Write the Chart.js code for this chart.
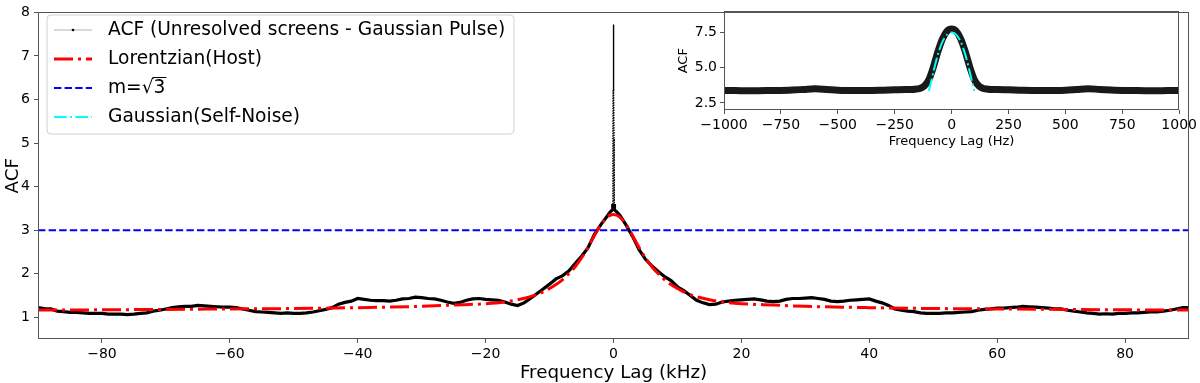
<!DOCTYPE html>
<html>
<head>
<meta charset="utf-8">
<script src="https://cdn.jsdelivr.net/npm/chart.js@4.4.1/dist/chart.umd.min.js"></script>
<style>
  html, body { margin: 0; padding: 0; background: #fff; }
  #wrap { position: relative; width: 1200px; height: 383px; }
  #main { position: absolute; left: 0; top: 0; }
  #inset { position: absolute; left: 665px; top: 0; }
</style>
</head>
<body>
<div id="wrap">
  <canvas id="main" width="1200" height="383"></canvas>
  <canvas id="inset" width="535" height="155"></canvas>
</div>
<script>
// --- main panel data (kHz) ---
const acfKhz = [
  -90,-89,-88,-87,-86,-85,-84,-83,-82,-81,-80,-79,-78,-77,-76,-75,-74,-73,-72,-71,
  -70,-69,-68,-67,-66,-65,-64,-63,-62,-61,-60,-59,-58,-57,-56,-55,-54,-53,-52,-51,
  -50,-49,-48,-47,-46,-45,-44,-43,-42,-41,-40,-39,-38,-37,-36,-35,-34,-33,-32,-31,
  -30,-29,-28,-27,-26,-25,-24,-23,-22,-21,-20,-19,-18,-17,-16,-15,-14,-13,-12,-11,
  -10,-9,-8,-7,-6,-5,-4,-3,-2,-1,
  -0.5,-0.3,-0.15,-0.12,-0.1,-0.08,-0.06,-0.04,-0.02,0,0.02,0.04,0.06,0.08,0.1,0.12,0.15,0.3,0.5,
  1,2,3,4,5,6,7,8,9,10,11,12,13,14,15,16,17,18,19,20,
  21,22,23,24,25,26,27,28,29,30,31,32,33,34,35,36,37,38,39,40,
  41,42,43,44,45,46,47,48,49,50,51,52,53,54,55,56,57,58,59,60,
  61,62,63,64,65,66,67,68,69,70,71,72,73,74,75,76,77,78,79,80,
  81,82,83,84,85,86,87,88,89,90
];
const acfMain = [
  1.22,1.20,1.19,1.14,1.13,1.11,1.11,1.10,1.09,1.09,1.09,1.07,1.07,1.07,1.06,1.07,1.09,1.10,1.14,1.16,
  1.19,1.22,1.24,1.25,1.25,1.27,1.26,1.25,1.24,1.23,1.23,1.22,1.19,1.16,1.13,1.12,1.11,1.10,1.09,1.10,
  1.09,1.09,1.10,1.12,1.15,1.18,1.22,1.30,1.34,1.37,1.43,1.41,1.39,1.38,1.38,1.37,1.39,1.42,1.43,1.46,
  1.45,1.43,1.42,1.39,1.35,1.32,1.34,1.39,1.42,1.43,1.41,1.40,1.39,1.35,1.30,1.27,1.33,1.43,1.54,1.65,
  1.76,1.88,1.95,2.06,2.23,2.40,2.59,2.90,3.12,3.32,
  3.42,3.45,3.47,3.60,4.10,5.10,6.20,7.00,7.55,7.72,7.55,7.00,6.20,5.10,4.10,3.60,3.47,3.45,3.42,
  3.34,3.11,2.85,2.55,2.33,2.18,2.05,1.93,1.84,1.70,1.61,1.50,1.39,1.33,1.29,1.30,1.35,1.37,1.39,1.40,
  1.41,1.42,1.40,1.37,1.36,1.37,1.41,1.43,1.43,1.44,1.45,1.43,1.41,1.37,1.36,1.37,1.39,1.40,1.41,1.42,
  1.37,1.33,1.27,1.19,1.16,1.14,1.13,1.10,1.09,1.09,1.09,1.10,1.10,1.11,1.12,1.13,1.16,1.18,1.19,1.21,
  1.21,1.22,1.23,1.25,1.24,1.23,1.22,1.21,1.19,1.19,1.16,1.14,1.12,1.10,1.09,1.07,1.08,1.07,1.09,1.09,
  1.10,1.10,1.11,1.12,1.12,1.14,1.16,1.19,1.22,1.22
];
const lorKhz = [-90,-80,-70,-60,-50,-40,-30,-25,-20,-17,-15,-13,-12,-11,-10,-9,-8,-7,-6,-5,-4,-3,-2,-1,0,
                1,2,3,4,5,6,7,8,9,10,11,12,13,15,17,20,25,30,40,50,60,70,80,90];
const lorVal = [1.165,1.17,1.18,1.19,1.20,1.22,1.25,1.28,1.31,1.35,1.40,1.47,1.52,1.58,1.66,1.75,1.86,2.00,2.16,2.36,2.60,2.87,3.12,3.30,3.36,
                3.30,3.12,2.87,2.60,2.36,2.16,2.00,1.86,1.75,1.66,1.58,1.52,1.47,1.40,1.35,1.31,1.28,1.25,1.22,1.20,1.19,1.18,1.17,1.165];
const mLevelKhz = [-90, 90];
const mLevel = [3, 3];
const mainXTicks = [-80, -60, -40, -20, 0, 20, 40, 60, 80];
const mainYTicks = [1, 2, 3, 4, 5, 6, 7, 8];
const legendLabels = ['ACF (Unresolved screens - Gaussian Pulse)', 'Lorentzian(Host)', 'm=\u221A3', 'Gaussian(Self-Noise)'];

// --- inset data (Hz) ---
const insetHz = [-1000,-950,-900,-850,-800,-750,-700,-650,-600,-550,-500,-450,-400,-350,-300,-250,-200,-180,-160,-140,-120,-100,-80,-60,-40,-20,0,
                 20,40,60,80,100,120,140,160,180,200,250,300,350,400,450,500,550,600,650,700,750,800,850,900,950,1000];
const insetAcf = [3.38,3.38,3.37,3.37,3.38,3.39,3.42,3.46,3.50,3.46,3.41,3.39,3.38,3.39,3.41,3.43,3.45,3.46,3.48,3.53,3.70,4.15,5.05,6.15,7.05,7.60,7.75,
                  7.60,7.05,6.15,5.05,4.15,3.70,3.53,3.48,3.46,3.45,3.43,3.41,3.39,3.38,3.39,3.41,3.46,3.51,3.46,3.42,3.39,3.38,3.37,3.37,3.38,3.38];
const gaussHz = [-100,-90,-80,-60,-40,-20,0,20,40,60,80,90,100];
const gaussVal = [3.35,4.0,4.7,5.95,6.85,7.35,7.5,7.35,6.85,5.95,4.7,4.0,3.35];
const insetXTicks = [-1000, -750, -500, -250, 0, 250, 500, 750, 1000];
const insetYTicks = [2.5, 5.0, 7.5];

const FONT = "'DejaVu Sans', sans-serif";
const SPINE = '#555';
const pts = (xs, ys) => xs.map((x, i) => ({ x: x, y: ys[i] }));
const minus = v => String(v).replace('-', '\u2212');

const DASHDOT_RED = [19, 5, 3, 5];
const DASH_BLUE = [7.4, 3.2];
const DASHDOT_CYAN = [12.8, 3.2, 2, 3.2];

// the narrow self-noise spike is drawn thin and dotted, as in the original
const inSpike = c => Math.abs(c.p0.parsed.x) < 0.14 && Math.abs(c.p1.parsed.x) < 0.14;

// full box around the axes, like matplotlib spines
const spinePlugin = {
  id: 'spines',
  afterDatasetsDraw(chart) {
    const a = chart.chartArea, ctx = chart.ctx;
    ctx.save();
    ctx.strokeStyle = SPINE;
    ctx.lineWidth = 1;
    ctx.strokeRect(Math.round(a.left) + 0.5, Math.round(a.top) + 0.5,
                   Math.round(a.right - a.left) - 1, Math.round(a.bottom - a.top) - 1);
    ctx.restore();
  }
};

// matplotlib-style legend in the upper left corner
const mainLegend = {
  id: 'mainLegend',
  afterDraw(chart) {
    const ctx = chart.ctx;
    const bx = 47, by = 15, bw = 467, bh = 119, r = 4;
    ctx.save();
    ctx.beginPath();
    ctx.moveTo(bx + r, by);
    ctx.arcTo(bx + bw, by, bx + bw, by + bh, r);
    ctx.arcTo(bx + bw, by + bh, bx, by + bh, r);
    ctx.arcTo(bx, by + bh, bx, by, r);
    ctx.arcTo(bx, by, bx + bw, by, r);
    ctx.closePath();
    ctx.fillStyle = 'rgba(255,255,255,0.8)';
    ctx.fill();
    ctx.strokeStyle = '#d0d0d0';
    ctx.lineWidth = 1;
    ctx.stroke();

    const rows = [30, 59, 88, 117];
    const styles = [
      { color: 'rgba(0,0,0,0.3)', width: 1, dash: [] },
      { color: '#ff0000', width: 3, dash: DASHDOT_RED },
      { color: '#0000ff', width: 2, dash: DASH_BLUE },
      { color: '#00ffff', width: 2, dash: DASHDOT_CYAN }
    ];
    ctx.font = '18.6px ' + FONT;
    ctx.textBaseline = 'middle';
    ctx.fillStyle = '#000';
    rows.forEach((y, i) => {
      const s = styles[i];
      ctx.beginPath();
      ctx.setLineDash(s.dash);
      ctx.strokeStyle = s.color;
      ctx.lineWidth = s.width;
      ctx.moveTo(54, y);
      ctx.lineTo(92, y);
      ctx.stroke();
      ctx.setLineDash([]);
      if (i === 0) {
        ctx.beginPath();
        ctx.fillStyle = '#000';
        ctx.arc(73, y, 1.3, 0, Math.PI * 2);
        ctx.fill();
      }
      ctx.fillStyle = '#000';
      ctx.fillText(legendLabels[i], 108, y);
      if (i === 2) {
        // bar of the square root over the 3
        const w0 = ctx.measureText('m=\u221A').width;
        const w3 = ctx.measureText('3').width;
        ctx.beginPath();
        ctx.strokeStyle = '#000';
        ctx.lineWidth = 1;
        ctx.moveTo(108 + w0 - 1, y - 10.5);
        ctx.lineTo(108 + w0 + w3 + 1, y - 10.5);
        ctx.stroke();
      }
    });
    ctx.restore();
  }
};

function axisOpts(o) {
  return {
    type: 'linear',
    min: o.min, max: o.max,
    afterBuildTicks: s => { s.ticks = o.ticks.map(v => ({ value: v })); },
    afterFit: s => { if (o.height) s.height = o.height; if (o.width) s.width = o.width; },
    grid: { display: true, drawOnChartArea: false, drawTicks: true, tickLength: 4, color: SPINE, lineWidth: 1 },
    border: { display: false },
    ticks: {
      autoSkip: false, maxRotation: 0, color: '#000', padding: o.pad,
      font: { family: FONT, size: o.tickSize },
      callback: o.fmt
    },
    title: {
      display: true, text: o.title, color: '#000',
      font: { family: FONT, size: o.titleSize, lineHeight: 1 },
      padding: o.titlePad
    }
  };
}

new Chart(document.getElementById('main'), {
  type: 'line',
  data: {
    datasets: [
      { label: legendLabels[0], data: pts(acfKhz, acfMain), borderColor: '#000', backgroundColor: '#000',
        borderWidth: 3.2, pointRadius: 0, tension: 0, order: 2,
        segment: {
          borderWidth: c => inSpike(c) ? 1.4 : undefined,
          borderDash: c => inSpike(c) ? [1.5, 1] : undefined
        } },
      { label: legendLabels[1], data: pts(lorKhz, lorVal), borderColor: '#ff0000', borderWidth: 3,
        borderDash: DASHDOT_RED, pointRadius: 0, tension: 0.4, cubicInterpolationMode: 'monotone', order: 1 },
      { label: legendLabels[2], data: pts(mLevelKhz, mLevel), borderColor: '#0000ff', borderWidth: 2,
        borderDash: DASH_BLUE, pointRadius: 0, order: 0 }
    ]
  },
  options: {
    responsive: false, animation: false, events: [],
    layout: { padding: { left: 0, top: 5, right: 11, bottom: 0 } },
    plugins: { legend: { display: false }, tooltip: { enabled: false } },
    scales: {
      x: axisOpts({ min: -90, max: 90, ticks: mainXTicks, height: 44, pad: 3, tickSize: 14,
                    fmt: v => minus(v), title: 'Frequency Lag (kHz)', titleSize: 18.3, titlePad: { top: 0, bottom: 1 } }),
      y: axisOpts({ min: 0.5, max: 8, ticks: mainYTicks, width: 38, pad: 4, tickSize: 14,
                    fmt: v => String(v), title: 'ACF', titleSize: 18.3, titlePad: { top: 4, bottom: 0 } })
    }
  },
  plugins: [spinePlugin, mainLegend]
});

new Chart(document.getElementById('inset'), {
  type: 'line',
  data: {
    datasets: [
      { label: 'ACF', data: pts(insetHz, insetAcf), borderColor: 'rgba(0,0,0,0.9)', borderWidth: 7,
        pointRadius: 0, tension: 0.3, cubicInterpolationMode: 'monotone', order: 1 },
      { label: legendLabels[3], data: pts(gaussHz, gaussVal), borderColor: '#00ffff', borderWidth: 2,
        borderDash: DASHDOT_CYAN, pointRadius: 0, tension: 0.3, order: 0 }
    ]
  },
  options: {
    responsive: false, animation: false, events: [],
    layout: { padding: { left: 0, top: 11, right: 15, bottom: 0 } },
    plugins: { legend: { display: false }, tooltip: { enabled: false } },
    scales: {
      x: axisOpts({ min: -1000, max: 1000, ticks: insetXTicks, height: 45, pad: 3, tickSize: 14,
                    fmt: v => minus(v), title: 'Frequency Lag (Hz)', titleSize: 13, titlePad: { top: 0, bottom: 7 } }),
      y: axisOpts({ min: 2.0, max: 9.0, ticks: insetYTicks, width: 59, pad: 3, tickSize: 14,
                    fmt: v => v.toFixed(1), title: 'ACF', titleSize: 13, titlePad: { top: 12, bottom: 0 } })
    }
  },
  plugins: [spinePlugin]
});
</script>
</body>
</html>
